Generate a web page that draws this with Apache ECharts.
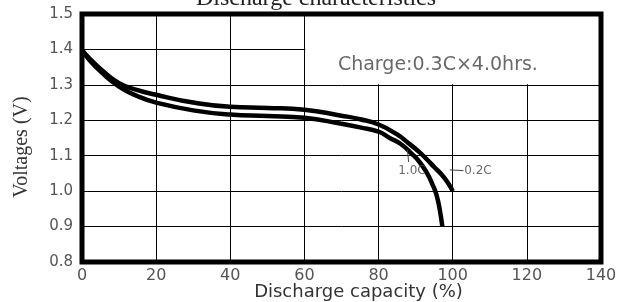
<!DOCTYPE html>
<html>
<head>
<meta charset="utf-8">
<script src="https://cdn.jsdelivr.net/npm/echarts@6/dist/echarts.min.js"></script>
<style>
  html, body { margin: 0; padding: 0; background: #fff; }
  #main { width: 632px; height: 302px; }
</style>
</head>
<body>
<div id="main"></div>
<script>
// 放电曲线数据 (capacity %, voltage V)
var curve02C = [
  [0, 1.398], [2, 1.375], [5, 1.345], [10, 1.305], [15, 1.285], [20, 1.272],
  [30, 1.250], [40, 1.238], [50, 1.235], [60, 1.230], [70, 1.213], [75, 1.203],
  [80, 1.188], [85, 1.160], [88, 1.136], [91, 1.110], [93, 1.090], [95, 1.068],
  [97, 1.047], [98.7, 1.024], [100, 1.0]
];
var curve10C = [
  [0, 1.398], [2, 1.370], [5, 1.338], [10, 1.295], [15, 1.268], [20, 1.250],
  [30, 1.228], [40, 1.216], [50, 1.212], [60, 1.207], [70, 1.190], [75, 1.180],
  [80, 1.168], [83, 1.150], [86, 1.133], [89, 1.105], [91, 1.083], [93, 1.052],
  [94.5, 1.020], [95.6, 0.990], [96.5, 0.948], [97.2, 0.900]
];
var xTicks = [0, 20, 40, 60, 80, 100, 120, 140];
var yTicks = [0.8, 0.9, 1.0, 1.1, 1.2, 1.3, 1.4, 1.5];

// 注释
var chargeNote = { text: 'Charge:0.3C×4.0hrs.', at: [96, 1.356] };
var noteBox = [[60.25, 1.5], [140, 1.302]];
var lead10C = [[87.8, 1.117], [88.1, 1.082]];
var label10C = { text: '1.0C', at: [89, 1.056] };
var lead02C = [[99.2, 1.060], [102.9, 1.058]];
var label02C = { text: '0.2C', at: [103.1, 1.058] };

var myChart = echarts.init(document.getElementById('main'));

var option = {
  animation: false,
  backgroundColor: '#fff',
  title: {
    text: 'Discharge characteristics',
    left: 'center',
    top: -18,
    textStyle: { fontFamily: 'Liberation Serif', fontSize: 24, fontWeight: 'normal', color: '#222' }
  },
  grid: {
    show: true,
    z: 10,
    left: 82, right: 31, top: 14, bottom: 40,
    outerBoundsMode: 'none',
    containLabel: false,
    borderColor: '#000',
    borderWidth: 5,
    backgroundColor: 'transparent'
  },
  xAxis: {
    type: 'value',
    min: xTicks[0], max: xTicks[xTicks.length - 1], interval: 20,
    name: 'Discharge capacity (%)',
    nameLocation: 'middle',
    nameGap: 21,
    nameMoveOverlap: false,
    nameTextStyle: { fontFamily: 'DejaVu Sans', fontSize: 18, color: '#333', padding: [0, 0, 0, 34] },
    axisLine: { show: false },
    axisTick: { show: false },
    axisLabel: { margin: 6, fontFamily: 'DejaVu Sans', fontSize: 16, color: '#555' },
    splitLine: { show: true, lineStyle: { color: '#000', width: 1 } }
  },
  yAxis: {
    type: 'value',
    min: yTicks[0], max: yTicks[yTicks.length - 1], interval: 0.1,
    name: 'Voltages (V)',
    nameLocation: 'middle',
    nameGap: 50,
    nameRotate: 90,
    nameTextStyle: { fontFamily: 'Liberation Serif', fontSize: 20, color: '#333', padding: [0, 18, 0, 0] },
    axisLine: { show: false },
    axisTick: { show: false },
    axisLabel: {
      margin: 9, fontFamily: 'DejaVu Sans', fontSize: 15, color: '#555',
      padding: [0, 0, 7, 0],
      formatter: function (v) { return v.toFixed(1); }
    },
    splitLine: { show: true, lineStyle: { color: '#000', width: 1 } }
  },
  series: [
    {
      name: '0.2C',
      type: 'line',
      data: curve02C,
      smooth: 0.5,
      showSymbol: false,
      lineStyle: { color: '#000', width: 4.5 },
      markArea: {
        silent: true,
        itemStyle: { color: '#fff' },
        data: [[{ coord: noteBox[0] }, { coord: noteBox[1] }]]
      },
      z: 3
    },
    {
      name: '1.0C',
      type: 'line',
      data: curve10C,
      smooth: 0.5,
      showSymbol: false,
      lineStyle: { color: '#000', width: 4.5 },
      z: 3
    },
    {
      type: 'line',
      data: lead10C,
      showSymbol: false,
      lineStyle: { color: '#444', width: 1 },
      z: 4
    },
    {
      type: 'line',
      data: lead02C,
      showSymbol: false,
      lineStyle: { color: '#444', width: 1 },
      z: 4
    },
    {
      type: 'scatter',
      symbolSize: 0,
      z: 5,
      data: [
        { value: chargeNote.at, label: { show: true, position: 'inside', formatter: chargeNote.text, fontFamily: 'DejaVu Sans', fontSize: 19, color: '#444' } },
        { value: label10C.at, label: { show: true, position: 'inside', formatter: label10C.text, fontFamily: 'DejaVu Sans', fontSize: 12, color: '#444' } },
        { value: label02C.at, label: { show: true, position: 'right', distance: 0, formatter: label02C.text, fontFamily: 'DejaVu Sans', fontSize: 12, color: '#444' } }
      ]
    }
  ]
};
myChart.setOption(option);
</script>
</body>
</html>
